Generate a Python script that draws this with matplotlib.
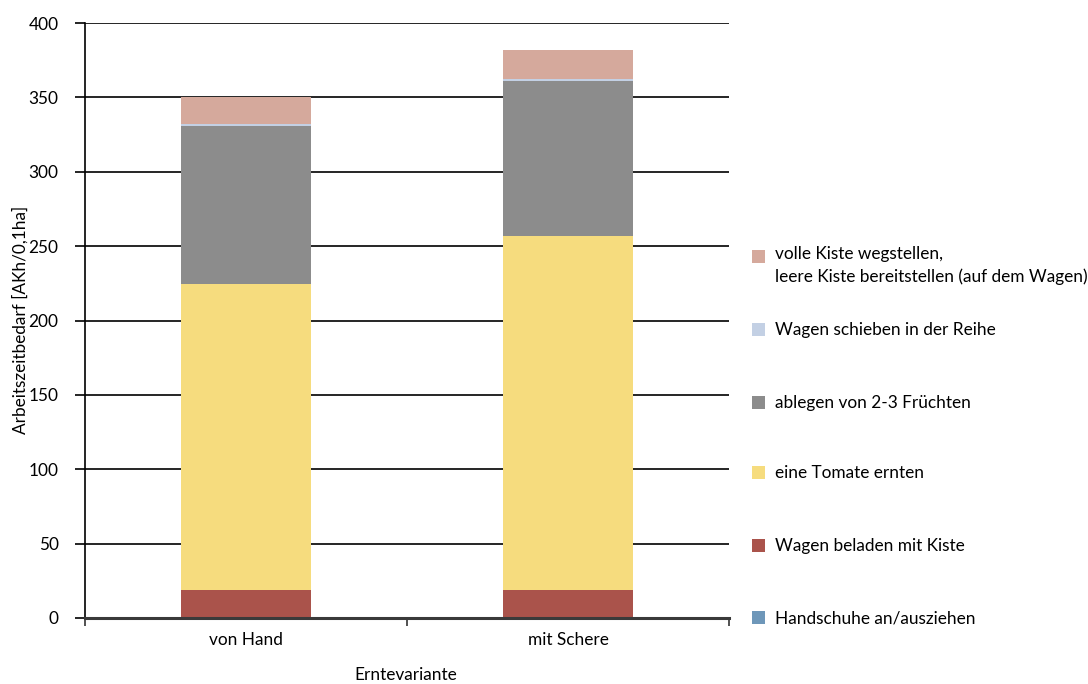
import matplotlib
matplotlib.use("Agg")
import matplotlib.pyplot as plt
from matplotlib.patches import Rectangle
import numpy as np

plt.rcParams['font.family'] = ['Lato', 'DejaVu Sans']

categories = ["von Hand", "mit Schere"]
series_names = [
    "Handschuhe an/ausziehen",
    "Wagen beladen mit Kiste",
    "eine Tomate ernten",
    "ablegen von 2-3 Früchten",
    "Wagen schieben in der Reihe",
    "volle Kiste wegstellen,\nleere Kiste bereitstellen (auf dem Wagen)",
]
handschuhe = [1.0, 1.0]
wagen_beladen = [18.0, 18.0]
tomate_ernten = [205.5, 237.8]
ablegen = [106.2, 104.3]
wagen_schieben = [1.7, 1.3]
kiste_wegstellen = [17.8, 19.7]
series_values = [handschuhe, wagen_beladen, tomate_ernten, ablegen, wagen_schieben, kiste_wegstellen]
colors = ["#6E97B9", "#AA534B", "#F6DC7E", "#8C8C8C", "#C3D0E4", "#D5A99C"]
yticks = [0, 50, 100, 150, 200, 250, 300, 350, 400]

FS = 12.4
fig = plt.figure(figsize=(10.88, 6.84), dpi=100)
ax = fig.add_axes([85/1088, 1-618/684, (729-85)/1088, (618-23)/684])

x = np.arange(len(categories))
bottom = np.zeros(len(categories))
for vals, col in zip(series_values, colors):
    ax.bar(x, vals, bottom=bottom, width=0.405, color=col, edgecolor='none', zorder=3)
    bottom += np.array(vals)

ax.set_xlim(-0.5, 1.5)
ax.set_ylim(0, 400)
ax.set_yticks(yticks)
ax.set_yticklabels([str(t) for t in yticks], fontsize=FS)
ax.set_xticks([-0.5, 0.5, 1.5])
ax.set_xticklabels([])
ax.set_xticks(x, minor=True)
ax.set_xticklabels(categories, minor=True, fontsize=FS)
ax.tick_params(axis='x', which='minor', length=0, pad=10)
ax.tick_params(axis='x', which='major', length=6, width=1.2, color='#333333', direction='out')
ax.tick_params(axis='y', length=7, width=1.2, color='black', pad=12, direction='out')

for y in yticks[1:]:
    ax.axhline(y, color='black', lw=1.2, zorder=2)

for s in ['top', 'right']:
    ax.spines[s].set_visible(False)
ax.spines['left'].set_color('black')
ax.spines['left'].set_linewidth(1.2)
ax.spines['bottom'].set_color('#3a3a3a')
ax.spines['bottom'].set_linewidth(2.2)
ax.spines['bottom'].set_zorder(5)

fig.text(20/1088, 1-320/684, "Arbeitszeitbedarf [AKh/0,1ha]", fontsize=FS,
         rotation=90, ha='center', va='center')
fig.text(406/1088, 1-675/684, "Erntevariante", fontsize=FS, ha='center', va='center')

# legend (manual, top to bottom reversed order)
leg_y = [618, 546, 473, 403, 330, 257]
for name, col, yy in zip(series_names, colors, leg_y):
    fig.add_artist(Rectangle((752/1088, 1-(yy+6)/684), 13/1088, 13/684,
                             transform=fig.transFigure, color=col, lw=0))
    if '\n' in name:
        fig.text(775/1088, 1-(yy-11)/684, name, fontsize=FS, va='top', ha='left',
                 linespacing=1.45, transform=fig.transFigure)
    else:
        fig.text(775/1088, 1-yy/684, name, fontsize=FS, va='center', ha='left',
                 transform=fig.transFigure)

fig.savefig("out.png", dpi=100)
